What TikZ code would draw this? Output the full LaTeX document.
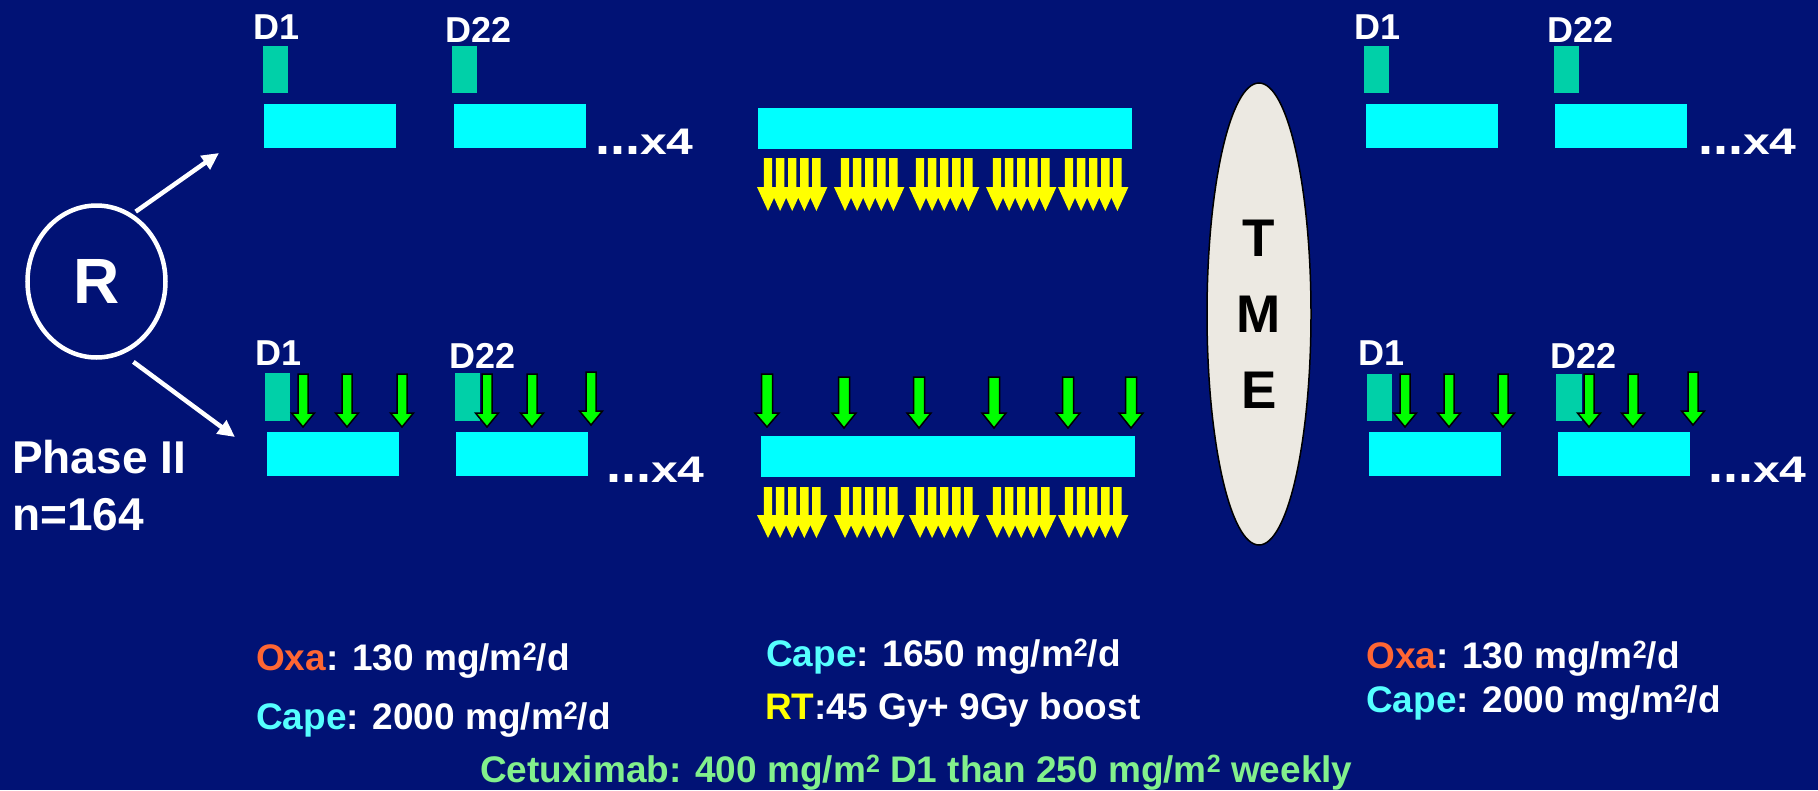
\documentclass[tikz,border=0pt]{standalone}
\usepackage{fontspec}
\setmainfont{Liberation Sans}
\usetikzlibrary{arrows.meta,shapes.geometric}
\definecolor{bgblue}{RGB}{1,18,117}
\definecolor{barcyan}{RGB}{0,255,255}
\definecolor{dayteal}{RGB}{0,208,168}
\definecolor{rtyellow}{RGB}{255,255,0}
\definecolor{arrgreen}{RGB}{0,255,0}
\definecolor{oxaorange}{RGB}{255,102,51}
\definecolor{capecyan}{RGB}{85,255,255}
\definecolor{cetuxgreen}{RGB}{130,240,140}
\definecolor{tmefill}{RGB}{236,233,226}
\newcommand\sqm{\raisebox{10pt}{\fontsize{25}{25}\selectfont 2}}
\newcommand\timesfour{{\fontsize{54}{54}\selectfont...}\scalebox{1.3}[1]{x4}}
\newcommand\YArrow[4]{%
  \fill[rtyellow] ({#1-4.2},#2) -- ({#1+4.2},#2) -- ({#1+4.2},#3) -- ({#1+11},#3)
    -- (#1,#4) -- ({#1-11},#3) -- ({#1-4.2},#3) -- cycle;}
\newcommand\YGroup[4]{%
  \foreach \k in {0,...,4}{\pgfmathsetmacro\xx{#1+12.1*\k}\YArrow{\xx}{#2}{#3}{#4}}}
\newcommand\GArrow[6]{%
  \draw[garrow] ({#1-#5},#2) -- ({#1+#5},#2) -- ({#1+#5},#3) -- ({#1+#6},#3)
    -- (#1,#4) -- ({#1-#6},#3) -- ({#1-#5},#3) -- cycle;}
\tikzset{
  garrow/.style={fill=arrgreen, draw=black, line width=1.5pt, line join=miter},
  cyanbar/.style={fill=barcyan},
  tealbox/.style={fill=dayteal},
  dlabel/.style={anchor=base west, inner sep=0, text=white, font=\fontsize{36}{36}\selectfont\bfseries},
  timeslbl/.style={anchor=base west, inner sep=0, text=white, font=\fontsize{37}{37}\selectfont\bfseries},
  doselbl/.style={anchor=base west, inner sep=0, text=white, font=\fontsize{37}{37}\selectfont\bfseries},
  phaselbl/.style={anchor=base west, inner sep=0, text=white, font=\fontsize{46}{46}\selectfont\bfseries},
  randarrow/.style={draw=white, line width=4.5pt, -{Triangle[length=17pt,width=16pt]}}
}
\begin{document}
\begin{tikzpicture}[x=1pt,y=-1pt]
\fill[bgblue] (0,0) rectangle (1818,790);
\useasboundingbox (0,0) rectangle (1818,790);

% ---- Randomisation ----
\node[ellipse, draw=white, line width=4.5pt, minimum width=138pt, minimum height=152pt,
      inner sep=0, text=white, font=\fontsize{64}{64}\selectfont\bfseries] (R) at (96.5,281.5) {R};
\coordinate (upTip) at (219,153);
\coordinate (lowTip) at (235,437);
\draw[randarrow, shorten <=4pt] (R.62) -- (upTip);
\draw[randarrow, shorten <=13pt] (R.-70.5) -- (lowTip);
\node[phaselbl] (phase) at (12,473) {Phase II};
\node[phaselbl] (nn) at (12,530) {n=164};

% ---- top-left arm ----
\fill[tealbox] (263,46) rectangle (288,93);
\fill[cyanbar] (264,104) rectangle (396,148);
\fill[tealbox] (452,46) rectangle (477,93);
\fill[cyanbar] (454,104) rectangle (586,148);
\node[dlabel] (tlD1) at (253,39) {D1};
\node[dlabel] (tlD22) at (445,42) {D22};
\node[timeslbl] (tlx) at (595,154) {\timesfour};

% ---- bottom-left arm ----
\fill[tealbox] (265,373) rectangle (290,421);
\fill[cyanbar] (267,432) rectangle (399,476);
\fill[tealbox] (455,373) rectangle (480,421);
\fill[cyanbar] (456,432) rectangle (588,476);
\node[dlabel] (blD1) at (255,365) {D1};
\node[dlabel] (blD22) at (449,368) {D22};
\node[timeslbl] (blx) at (606,482) {\timesfour};
\GArrow{303}{374}{413}{427}{5}{11.5}
\GArrow{347}{374}{413}{427}{5}{11.5}
\GArrow{402}{374}{413}{427}{5}{11.5}
\GArrow{487}{374}{413}{427}{5}{11.5}
\GArrow{532}{374}{413}{427}{5}{11.5}
\GArrow{591}{372}{411}{425}{5}{11.5}

% ---- chemoradiation (centre) ----
\fill[cyanbar] (758,108) rectangle (1132,149);
\fill[cyanbar] (761,436) rectangle (1135,477);
\foreach \gx in {768,845,920,997,1069}{
  \YGroup{\gx}{158}{187}{211}
  \YGroup{\gx}{487}{515}{538}
}
\GArrow{767}{374}{413}{427}{5.5}{12}
\GArrow{844}{377}{413}{428}{5.5}{12}
\GArrow{919}{377}{413}{428}{5.5}{12}
\GArrow{994}{377}{413}{428}{5.5}{12}
\GArrow{1068}{377}{413}{428}{5.5}{12}
\GArrow{1131}{377}{413}{428}{5.5}{12}

% ---- TME ----
\node[ellipse, draw=black, line width=1.5pt, fill=tmefill, minimum width=104pt,
      minimum height=462pt, inner sep=0, align=center, text=black,
      font=\fontsize{53}{76}\selectfont\bfseries] (tme) at (1259,314) {T\\M\\E};

% ---- top-right arm ----
\fill[tealbox] (1364,46) rectangle (1389,93);
\fill[cyanbar] (1366,104) rectangle (1498,148);
\fill[tealbox] (1554,46) rectangle (1579,93);
\fill[cyanbar] (1555,104) rectangle (1687,148);
\node[dlabel] (trD1) at (1354,39) {D1};
\node[dlabel] (trD22) at (1547,42) {D22};
\node[timeslbl] (trx) at (1698,154) {\timesfour};

% ---- bottom-right arm ----
\fill[tealbox] (1367,374) rectangle (1392,421);
\fill[cyanbar] (1369,432) rectangle (1501,476);
\fill[tealbox] (1556,374) rectangle (1582,421);
\fill[cyanbar] (1558,432) rectangle (1690,476);
\node[dlabel] (brD1) at (1358,365) {D1};
\node[dlabel] (brD22) at (1550,368) {D22};
\node[timeslbl] (brx) at (1708,482) {\timesfour};
\GArrow{1405}{374}{413}{427}{5}{11.5}
\GArrow{1449}{374}{413}{427}{5}{11.5}
\GArrow{1503}{374}{413}{427}{5}{11.5}
\GArrow{1589}{374}{413}{427}{5}{11.5}
\GArrow{1633}{374}{413}{427}{5}{11.5}
\GArrow{1693}{372}{411}{425}{5}{11.5}

% ---- doses ----
\node[doselbl] (oxaL) at (256,670) {\textcolor{oxaorange}{Oxa}: 130 mg/m\sqm/d};
\node[doselbl] (capeL) at (256,729) {\textcolor{capecyan}{Cape}: 2000 mg/m\sqm/d};
\node[doselbl] (capeC) at (766,666) {\textcolor{capecyan}{Cape}: 1650 mg/m\sqm/d};
\node[doselbl] (rtC) at (765,719) {\textcolor{rtyellow}{RT}:45 Gy+ 9Gy boost};
\node[doselbl] (oxaR) at (1366,668) {\textcolor{oxaorange}{Oxa}: 130 mg/m\sqm/d};
\node[doselbl] (capeR) at (1366,712) {\textcolor{capecyan}{Cape}: 2000 mg/m\sqm/d};
\node[doselbl, text=cetuxgreen] (cetux) at (480,782) {Cetuximab: 400 mg/m\sqm{} D1 than 250 mg/m\sqm{} weekly};
\end{tikzpicture}
\end{document}
